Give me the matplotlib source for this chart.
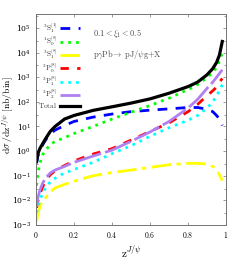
import numpy as np
import matplotlib
matplotlib.use('Agg')
import matplotlib.pyplot as plt
from matplotlib.ticker import LogFormatterMathtext, FormatStrFormatter, LogLocator

plt.rcParams['mathtext.fontset'] = 'cm'
plt.rcParams['font.family'] = 'DejaVu Serif'

# z^{J/psi} grid, values
z = [0.003, 0.01, 0.02, 0.035, 0.05, 0.075, 0.1, 0.15, 0.2, 0.3, 0.4, 0.5,
     0.6, 0.7, 0.8, 0.85, 0.9, 0.93, 0.95, 0.965, 0.98]

s1_singlet = [0.32, 0.63, 1.0, 1.8, 2.8, 5.0, 7.1, 11, 16, 24, 32, 40,
              46, 52, 59, 59, 50, 40, 28, 20, 11]
s0_octet = [0.04, 0.13, 0.32, 0.71, 1.1, 1.8, 2.5, 3.5, 5.2, 10, 20, 38,
            71, 141, 316, 501, 955, 1580, 2510, 4470, 10000]
s1_octet = [0.0014, 0.0028, 0.0056, 0.01, 0.0126, 0.022, 0.032, 0.045, 0.06, 0.1, 0.135, 0.17,
            0.22, 0.28, 0.32, 0.32, 0.30, 0.24, 0.17, 0.11, 0.063]
p0_octet = [0.005, 0.01, 0.018, 0.035, 0.063, 0.11, 0.16, 0.26, 0.40, 0.76, 1.26, 2.8,
            6.3, 14, 40, 79, 178, 282, 398, 631, 891]
p1_octet = [0.0032, 0.0056, 0.01, 0.02, 0.032, 0.056, 0.079, 0.13, 0.18, 0.35, 0.79, 1.66,
            4.0, 8.9, 18, 28, 56, 100, 178, 282, 501]
p2_octet = [0.0056, 0.013, 0.025, 0.05, 0.079, 0.13, 0.17, 0.24, 0.35, 0.63, 1.1, 2.5,
            6.0, 16, 56, 126, 355, 631, 1000, 1410, 2000]
total = [0.40, 0.79, 1.26, 2.0, 3.16, 6.3, 10, 20, 28, 45, 63, 89,
         132, 224, 417, 631, 1260, 2240, 3980, 7940, 28200]

labels = [r'$^3\mathrm{S}_1^{[1]}$', r'$^1\mathrm{S}_0^{[8]}$', r'$^3\mathrm{S}_1^{[8]}$',
          r'$^3\mathrm{P}_0^{[8]}$', r'$^3\mathrm{P}_1^{[8]}$', r'$^3\mathrm{P}_2^{[8]}$',
          r'$\mathrm{Total}$']

fig = plt.figure(figsize=(2.4, 2.62), dpi=100)
ax = fig.add_axes([0.15, 0.141, 0.792, 0.806])

lw = 2.0
ax.plot(z, s1_singlet, color='#0000ff', lw=lw, dashes=(3.5, 3), label=labels[0])
ax.plot(z, s0_octet, color='#00ff00', lw=lw, dashes=(1, 1.8), label=labels[1])
ax.plot(z, s1_octet, color='#ffff00', lw=lw, dashes=(7, 2, 1.5, 2), label=labels[2])
ax.plot(z, p0_octet, color='#ff0000', lw=lw, dashes=(3, 3), label=labels[3])
ax.plot(z, p1_octet, color='#00ffff', lw=lw, dashes=(1, 1.8), label=labels[4])
ax.plot(z, p2_octet, color='#b080f0', lw=lw, dashes=(10, 1.5), label=labels[5])
ax.plot(z, total, color='black', lw=2.3, label=labels[6])

ax.set_yscale('log')
ax.set_xlim(0, 1)
ax.set_ylim(1e-3, 10**5.57)
ax.set_yticks([10.0**k for k in range(-3, 6)])
ax.yaxis.set_major_formatter(LogFormatterMathtext())
ax.yaxis.set_minor_locator(LogLocator(subs=(3.0,)))
ax.yaxis.set_minor_formatter(plt.NullFormatter())
ax.set_xticks([0, 0.2, 0.4, 0.6, 0.8, 1])
ax.xaxis.set_major_formatter(FormatStrFormatter('$%g$'))
ax.tick_params(which='both', direction='in', top=True, right=True, labelsize=5.5,
               color='0.45', width=0.5)
ax.tick_params(which='major', length=2.5)
ax.tick_params(which='minor', length=1.5)
for sp in ax.spines.values():
    sp.set_color('0.45')
    sp.set_linewidth(0.7)

ax.set_xlabel(r'$\mathrm{z}^{J/\psi}$', fontsize=8, labelpad=3)
ax.set_ylabel(r'$\mathrm{d}\sigma\,/\mathrm{dz}^{J/\psi}\ [\mathrm{nb/bin}]$', fontsize=7)
ax.yaxis.set_label_coords(-0.105, 0.52)

ax.text(0.30, 0.905, r'$0.1<\xi_1<0.5$', transform=ax.transAxes, fontsize=6, color='0.3',
        va='center')
ax.text(0.30, 0.805, r'$\mathrm{p}\gamma\mathrm{Pb}\!\rightarrow\ \mathrm{pJ}/\psi\mathrm{g{+}X}$',
        transform=ax.transAxes, fontsize=6, color='0.3', va='center')

leg = ax.legend(loc='upper left', bbox_to_anchor=(-0.01, 0.985), frameon=False, fontsize=5.2,
                handlelength=2.8, handletextpad=0.3, labelspacing=0.0, markerfirst=False,
                borderaxespad=0.2)
for t in leg.get_texts():
    t.set_color('0.2')

fig.savefig('out.png', dpi=100)
